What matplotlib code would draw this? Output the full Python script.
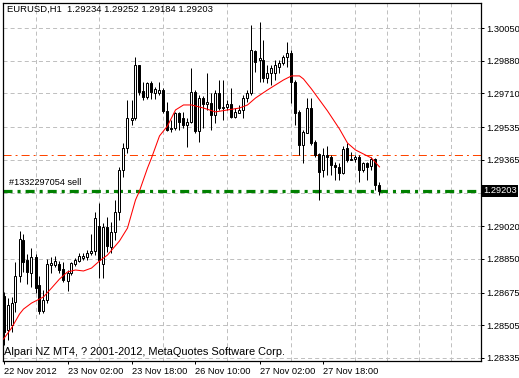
import numpy as np
import matplotlib
matplotlib.use('Agg')
import matplotlib.pyplot as plt

plt.rcParams['font.family'] = ['Liberation Sans', 'DejaVu Sans']
plt.rcParams['lines.scale_dashes'] = False

# EURUSD H1 bars, 22 Nov 2012 10:00 .. 27 Nov 2012 22:00
opens = [1.28657, 1.28480, 1.28506, 1.28626, 1.28761, 1.28948, 1.28844, 1.28776, 1.28860, 1.28714,
         1.28579, 1.28636, 1.28818, 1.28818, 1.28823, 1.28797, 1.28735, 1.28776, 1.28823, 1.28839,
         1.28854, 1.28860, 1.28880, 1.28891, 1.29021, 1.28823, 1.29016, 1.28912, 1.28990, 1.29094,
         1.29312, 1.29426, 1.29572, 1.29582, 1.29858, 1.29723, 1.29692, 1.29764, 1.29712, 1.29712,
         1.29728, 1.29619, 1.29530, 1.29530, 1.29608, 1.29582, 1.29546, 1.29562, 1.29718, 1.29515,
         1.29686, 1.29655, 1.29660, 1.29598, 1.29712, 1.29634, 1.29640, 1.29655, 1.29588, 1.29608,
         1.29624, 1.29686, 1.29712, 1.29931, 1.29884, 1.29884, 1.29790, 1.29816, 1.29816, 1.29848,
         1.29868, 1.29900, 1.29920, 1.29770, 1.29614, 1.29442, 1.29504, 1.29634, 1.29458, 1.29395,
         1.29312, 1.29390, 1.29380, 1.29338, 1.29328, 1.29296, 1.29426, 1.29364, 1.29369, 1.29380,
         1.29312, 1.29348, 1.29333, 1.29369, 1.29234]
highs = [1.28678, 1.28646, 1.28652, 1.28834, 1.28995, 1.28979, 1.28875, 1.28906, 1.28875, 1.28761,
         1.28688, 1.28849, 1.28860, 1.28864, 1.28839, 1.28834, 1.28792, 1.28834, 1.28854, 1.28880,
         1.28880, 1.28896, 1.28979, 1.29094, 1.29140, 1.29036, 1.29068, 1.29042, 1.29156, 1.29328,
         1.29452, 1.29676, 1.29676, 1.29900, 1.29858, 1.29770, 1.29770, 1.29775, 1.29744, 1.29770,
         1.29738, 1.29666, 1.29572, 1.29614, 1.29614, 1.29614, 1.29582, 1.29842, 1.29728, 1.29702,
         1.29697, 1.29816, 1.29712, 1.29728, 1.29780, 1.29780, 1.29676, 1.29738, 1.29634, 1.29650,
         1.29702, 1.29728, 1.30066, 1.29936, 1.30082, 1.29988, 1.29858, 1.29858, 1.29884, 1.29884,
         1.29910, 1.29978, 1.29936, 1.29780, 1.29624, 1.29520, 1.29686, 1.29686, 1.29468, 1.29400,
         1.29426, 1.29437, 1.29390, 1.29354, 1.29348, 1.29437, 1.29452, 1.29406, 1.29390, 1.29390,
         1.29354, 1.29354, 1.29380, 1.29374, 1.29252]
lows = [1.28402, 1.28428, 1.28470, 1.28574, 1.28730, 1.28782, 1.28719, 1.28704, 1.28672, 1.28563,
        1.28568, 1.28620, 1.28776, 1.28808, 1.28776, 1.28730, 1.28683, 1.28766, 1.28813, 1.28834,
        1.28844, 1.28844, 1.28870, 1.28870, 1.28750, 1.28750, 1.28886, 1.28880, 1.28948, 1.29052,
        1.29276, 1.29400, 1.29546, 1.29572, 1.29702, 1.29676, 1.29681, 1.29681, 1.29681, 1.29702,
        1.29608, 1.29515, 1.29510, 1.29520, 1.29520, 1.29530, 1.29432, 1.29556, 1.29504, 1.29458,
        1.29530, 1.29624, 1.29520, 1.29556, 1.29624, 1.29572, 1.29624, 1.29582, 1.29582, 1.29608,
        1.29582, 1.29666, 1.29702, 1.29822, 1.29770, 1.29770, 1.29764, 1.29754, 1.29780, 1.29816,
        1.29858, 1.29848, 1.29660, 1.29546, 1.29390, 1.29348, 1.29504, 1.29442, 1.29380, 1.29156,
        1.29276, 1.29286, 1.29286, 1.29260, 1.29260, 1.29291, 1.29354, 1.29364, 1.29354, 1.29250,
        1.29302, 1.29260, 1.29312, 1.29208, 1.29184]
closes = [1.28470, 1.28610, 1.28620, 1.28761, 1.28953, 1.28834, 1.28782, 1.28860, 1.28698, 1.28579,
          1.28636, 1.28823, 1.28828, 1.28839, 1.28792, 1.28740, 1.28776, 1.28828, 1.28844, 1.28864,
          1.28864, 1.28880, 1.28891, 1.29062, 1.28844, 1.29016, 1.28917, 1.28990, 1.29094, 1.29312,
          1.29426, 1.29582, 1.29582, 1.29858, 1.29718, 1.29692, 1.29764, 1.29718, 1.29733, 1.29728,
          1.29619, 1.29520, 1.29525, 1.29608, 1.29562, 1.29546, 1.29562, 1.29718, 1.29515, 1.29686,
          1.29655, 1.29666, 1.29598, 1.29712, 1.29634, 1.29640, 1.29655, 1.29588, 1.29614, 1.29624,
          1.29686, 1.29712, 1.29936, 1.29874, 1.29894, 1.29790, 1.29816, 1.29842, 1.29858, 1.29868,
          1.29900, 1.29920, 1.29770, 1.29608, 1.29442, 1.29510, 1.29634, 1.29452, 1.29390, 1.29302,
          1.29390, 1.29380, 1.29338, 1.29328, 1.29296, 1.29421, 1.29364, 1.29369, 1.29380, 1.29312,
          1.29348, 1.29328, 1.29369, 1.29234, 1.29203]

# moving average (red), read at these bars
ma_bars = [0, 2, 4, 5, 7, 10, 12, 14, 16, 18, 20, 22, 24, 26, 29, 31, 33, 34, 36, 37, 39, 41, 43, 45,
           47, 50, 53, 56, 59, 61, 63, 66, 70, 72, 74, 75, 77, 79, 81, 84, 86, 88, 90, 92, 94]
ma_vals = [1.28433, 1.28490, 1.28563, 1.28589, 1.28620, 1.28652, 1.28698, 1.28745, 1.28782, 1.28792,
           1.28787, 1.28802, 1.28839, 1.28870, 1.28943, 1.29010, 1.29156, 1.29203, 1.29322, 1.29374,
           1.29489, 1.29541, 1.29624, 1.29650, 1.29650, 1.29634, 1.29614, 1.29624, 1.29634, 1.29650,
           1.29686, 1.29728, 1.29780, 1.29801, 1.29801, 1.29785, 1.29733, 1.29676, 1.29619, 1.29525,
           1.29452, 1.29416, 1.29395, 1.29374, 1.29328]

price_ticks = [1.30050, 1.29880, 1.29710, 1.29535, 1.29365, 1.29190, 1.29020, 1.28850, 1.28675, 1.28505, 1.28335]
price_labels = ['1.30050', '1.29880', '1.29710', '1.29535', '1.29365', '', '1.29020', '1.28850', '1.28675', '1.28505', '1.28335']
time_bars = [0, 16, 32, 48, 64, 80]
time_labels = ['22 Nov 2012', '23 Nov 02:00', '23 Nov 18:00', '26 Nov 10:00', '27 Nov 02:00', '27 Nov 18:00']

bid = 1.29203
order_price = 1.29390
order_label = '#1332297054 sell'
header = 'EURUSD,H1  1.29234 1.29252 1.29184 1.29203'
footer = 'Alpari NZ MT4, ? 2001-2012, MetaQuotes Software Corp.'

o = np.array(opens)
h = np.array(highs)
l = np.array(lows)
c = np.array(closes)
x = np.arange(len(o))
up = c >= o

fig = plt.figure(figsize=(5.19, 3.78), dpi=100)
ax = fig.add_axes([3 / 519, 17 / 378, 478 / 519, 358 / 378])

ax.set_xlim(-0.125, 119.375)
ax.set_ylim(1.28319, 1.30180)

# grid
ax.set_xticks(np.arange(8, 119, 8), minor=True)
ax.grid(True, which='minor', axis='x', color='#c0c0c0', lw=0.72, dashes=(2.9, 2.2))
ax.grid(True, which='major', axis='y', color='#c0c0c0', lw=0.72, dashes=(2.9, 2.2))
ax.set_axisbelow(True)

# candles
ax.vlines(x, l, h, color='black', lw=0.72, zorder=3)
ax.bar(x, np.abs(c - o), bottom=np.minimum(o, c), width=0.5,
       color=np.where(up, 'white', 'black'), edgecolor='black', linewidth=0.72, zorder=4)

# moving average
ax.plot(ma_bars, ma_vals, color='red', lw=0.75, zorder=5)

# order lines
ax.axhline(order_price, color='#ff4500', lw=0.72, dashes=(5.8, 2.9, 1.4, 2.9), zorder=2)
ax.axhline(bid, color='#008000', lw=2.3, dashes=(6.5, 3.6, 2.2, 3.6), zorder=2,
           solid_capstyle='butt', dash_capstyle='butt')
ax.annotate(order_label, xy=(0, bid), xycoords=('axes fraction', 'data'),
            xytext=(4, 3), textcoords='offset points', fontsize=6.6, va='bottom', ha='left')

# axes
ax.yaxis.tick_right()
ax.set_yticks(price_ticks)
ax.set_yticklabels(price_labels)
ax.set_xticks(time_bars)
ax.set_xticklabels(time_labels, ha='left')
ax.tick_params(axis='both', which='major', length=2.5, width=0.72, labelsize=6.7, pad=1.5, color='black')
ax.tick_params(axis='x', which='minor', length=0)
for s in ax.spines.values():
    s.set_linewidth(0.9)

ax.text(1.004, bid, '1.29203', transform=ax.get_yaxis_transform(), color='white', fontsize=6.7,
        va='center', ha='left', bbox=dict(facecolor='black', edgecolor='none', pad=1.2))

fig.text(7 / 519, 1 - 9 / 378, header, fontsize=6.8, va='center', ha='left')
ax.text(1 / 478, 9 / 358, footer, transform=ax.transAxes, fontsize=7.9, va='center', ha='left')

fig.savefig('out.png', dpi=100)
